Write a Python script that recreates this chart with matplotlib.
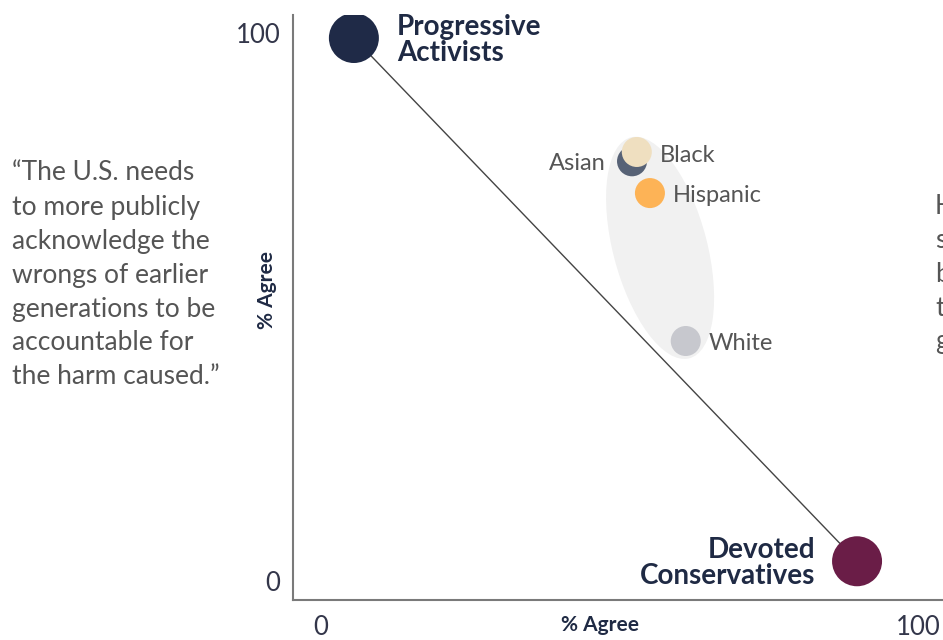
import matplotlib
matplotlib.use("Agg")
import matplotlib.pyplot as plt
from matplotlib.patches import Ellipse

plt.rcParams['font.family'] = ['Lato', 'DejaVu Sans']

# Data (percent agree)
segments = ["Progressive\nActivists", "Devoted\nConservatives"]
seg_x = [5.5, 89.8]
seg_y = [99.1, 3.6]
seg_colors = ["#1f2a47", "#6a1d47"]

groups = ["Asian", "Black", "Hispanic", "White"]
grp_x = [52.1, 52.9, 55.1, 61.1]
grp_y = [76.6, 78.3, 70.8, 43.8]
grp_colors = ["#576276", "#efdfc0", "#fdb356", "#c7c8ce"]

quote_left = ("\u201cThe U.S. needs\nto more publicly\nacknowledge the\n"
              "wrongs of earlier\ngenerations to be\naccountable for\n"
              "the harm caused.\u201d")
quote_right = "H\ns\nb\nt\ng"

NAVY = "#1f2a44"
GRAY = "#555555"

fig = plt.figure(figsize=(9.43, 6.4), dpi=100)
ax = fig.add_axes([293 / 943, 40 / 640, 650 / 943, 585 / 640])
ax.set_xlim(-4.7, 104.2)
ax.set_ylim(-3.47, 103.3)

for side in ["top", "right"]:
    ax.spines[side].set_visible(False)
for side in ["left", "bottom"]:
    ax.spines[side].set_color("#7a7a7a")
    ax.spines[side].set_linewidth(1.5)

ax.set_xticks([0, 100])
ax.set_yticks([0, 100])
ax.tick_params(length=0, labelsize=18.5, labelcolor="#33364a")
ax.tick_params(axis="x", pad=11)
ax.tick_params(axis="y", pad=9)

# shaded group around the demographic dots
ax.add_patch(Ellipse((56.8, 60.8), 15.8, 41.5, angle=13.3,
                     facecolor="#f1f1f1", edgecolor="none", zorder=1))

# line between the two segments
ax.plot(seg_x, seg_y, color="#444444", linewidth=1, zorder=2)

ax.scatter(seg_x, seg_y, s=1296, c=seg_colors, zorder=3, linewidths=0)
ax.scatter(grp_x, grp_y, s=467, c=grp_colors, zorder=3, linewidths=0)

ax.text(seg_x[0] + 7.2, seg_y[0] - 0.3, segments[0], fontsize=20,
        fontweight="bold", color=NAVY, ha="left", va="center", linespacing=1.0)
ax.text(seg_x[1] - 7.0, seg_y[1] - 0.3, segments[1], fontsize=20,
        fontweight="bold", color=NAVY, ha="right", va="center",
        multialignment="right", linespacing=1.0)

label_pos = {
    "Asian": (-4.4, -0.4, "right"),
    "Black": (3.9, -0.6, "left"),
    "Hispanic": (3.8, -0.4, "left"),
    "White": (3.9, -0.5, "left"),
}
for name, x, y in zip(groups, grp_x, grp_y):
    dx, dy, ha = label_pos[name]
    ax.text(x + dx, y + dy, name, fontsize=17, color=GRAY,
            ha=ha, va="center")

fig.text(600 / 943, 1 - 625 / 640, "% Agree", fontsize=15, fontweight="bold",
         color=NAVY, ha="center", va="center")
fig.text(267 / 943, 1 - 290 / 640, "% Agree", fontsize=15, fontweight="bold",
         color=NAVY, ha="center", va="center", rotation=90)

fig.text(12 / 943, 1 - 275 / 640, quote_left, fontsize=19, color=GRAY,
         ha="left", va="center", linespacing=1.45)
fig.text(935 / 943, 1 - 274 / 640, quote_right, fontsize=19, color=GRAY,
         ha="left", va="center", linespacing=1.45)

fig.savefig("out.png", dpi=100)
